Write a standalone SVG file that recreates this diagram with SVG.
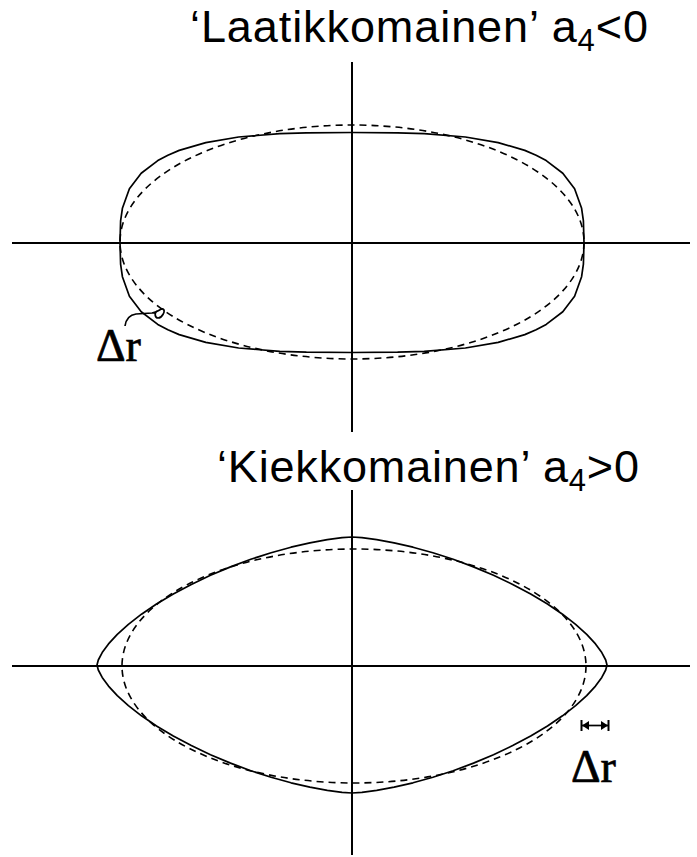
<svg xmlns="http://www.w3.org/2000/svg" width="697" height="857" viewBox="0 0 697 857">
<style>
.axis{stroke:#000;stroke-width:2;fill:none}
.solid{stroke:#000;stroke-width:1.7;fill:none;stroke-linejoin:round}
.dash{stroke:#000;stroke-width:1.6;fill:none;stroke-dasharray:7 5}
.title{font-family:"Liberation Sans",Arial,sans-serif;font-size:45px;fill:#000}
.sub{font-size:31px}
.dr{font-family:"Liberation Serif","Times New Roman",serif;font-size:46px;fill:#000;stroke:#000;stroke-width:0.7}
</style>
<rect width="697" height="857" fill="#fff"/>
<g id="top-figure">
  <text class="title" x="190" y="42" textLength="458" lengthAdjust="spacing">‘Laatikkomainen’ a<tspan class="sub" dy="9">4</tspan><tspan dy="-9">&lt;0</tspan></text>
  <line class="axis" x1="12" y1="243" x2="690" y2="243"/>
  <line class="axis" x1="352" y1="62" x2="352" y2="432"/>
  <ellipse class="dash" cx="352" cy="242" rx="232" ry="117"/>
  <polygon class="solid" points="584,242.5 583.4,220.9 581.6,208.3 574.6,188.7 562.8,173.2 546.2,160.6 536.1,155.2 524.8,150.4 498.2,142.6 465.4,137 424.2,133.6 397.6,132.8 352,132.5 306.4,132.8 279.8,133.6 238.6,137 205.8,142.6 179.2,150.4 167.9,155.2 157.8,160.6 141.2,173.2 129.4,188.7 122.4,208.3 120.6,220.9 120,242.5 120.6,264.1 122.4,276.7 129.4,296.3 141.2,311.8 157.8,324.4 167.9,329.8 179.2,334.6 205.8,342.4 238.6,348 279.8,351.4 306.4,352.2 352,352.5 397.6,352.2 424.2,351.4 465.4,348 498.2,342.4 524.8,334.6 536.1,329.8 546.2,324.4 562.8,311.8 574.6,296.3 581.6,276.7 583.4,264.1"/>
  <path class="solid" d="M125,326 C126,319 129,315 136,314 L152,313 C158,312 161,308 163,309 C166,311 162,318 158,318 C155,318 154,313 157,311"/>
  <text class="dr" x="96" y="361">Δr</text>
</g>
<g id="bottom-figure">
  <text class="title" x="217" y="482" textLength="422" lengthAdjust="spacing">‘Kiekkomainen’ a<tspan class="sub" dy="9">4</tspan><tspan dy="-9">&gt;0</tspan></text>
  <line class="axis" x1="12" y1="666" x2="690" y2="666"/>
  <line class="axis" x1="352" y1="490" x2="352" y2="855"/>
  <ellipse class="dash" cx="354" cy="666" rx="232" ry="117"/>
  <polygon class="solid" points="607,665 605.7,660 601.8,652.6 595.5,643.9 586.7,634.4 575.6,624.4 562.5,614.2 547.5,604 530.7,594 512.7,584.4 493.5,575.3 473.5,566.9 453.2,559.3 432.9,552.7 413,547.2 394.1,542.8 376.7,539.6 361.9,537.7 352,537 342.1,537.7 327.3,539.6 309.9,542.8 291,547.2 271.1,552.7 250.8,559.3 230.5,566.9 210.5,575.3 191.3,584.4 173.3,594 156.5,604 141.5,614.2 128.4,624.4 117.3,634.4 108.5,643.9 102.2,652.6 98.3,660 97,665 98.3,670 102.2,677.4 108.5,686.1 117.3,695.6 128.4,705.6 141.5,715.8 156.5,726 173.3,736 191.3,745.6 210.5,754.7 230.5,763.1 250.8,770.7 271.1,777.3 291,782.8 309.9,787.2 327.3,790.4 342.1,792.3 352,793 361.9,792.3 376.7,790.4 394.1,787.2 413,782.8 432.9,777.3 453.2,770.7 473.5,763.1 493.5,754.7 512.7,745.6 530.7,736 547.5,726 562.5,715.8 575.6,705.6 586.7,695.6 595.5,686.1 601.8,677.4 605.7,670"/>
  <g id="delta-marker">
    <line class="solid" x1="582" y1="725.5" x2="608" y2="725.5"/>
    <line class="axis" x1="581.5" y1="720" x2="581.5" y2="731"/>
    <line class="axis" x1="608.5" y1="720" x2="608.5" y2="731"/>
    <polygon points="582,725.5 589,721 589,730" fill="#000"/>
    <polygon points="608,725.5 601,721 601,730" fill="#000"/>
  </g>
  <text class="dr" x="571" y="782">Δr</text>
</g>
</svg>
